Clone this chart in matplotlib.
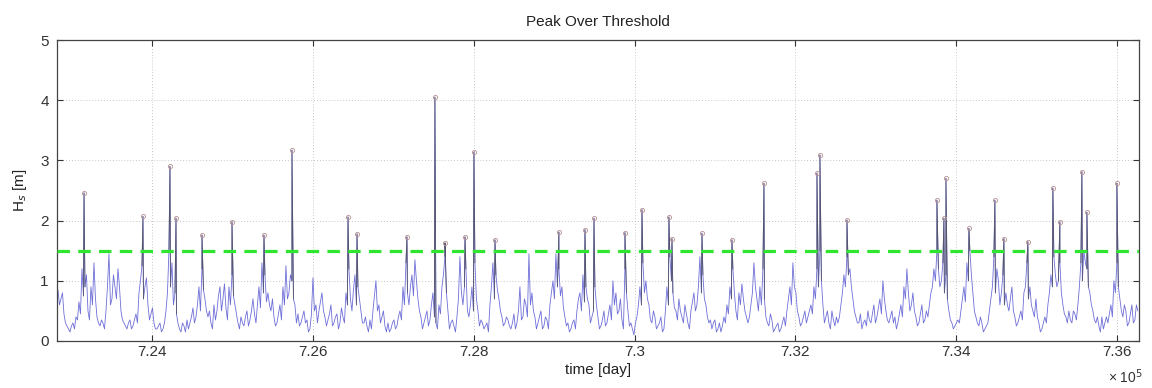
import numpy as np
import matplotlib
matplotlib.use("Agg")
import matplotlib.pyplot as plt

plt.rcParams['font.family'] = ['Liberation Sans', 'DejaVu Sans']

# Significant wave height, regular sampling (m)
hs_a = [0.85, 0.7, 0.45, 0.25, 0.15, 0.3, 0.4, 0.65, 1.2, 0.9,
        0.5, 0.9, 1.3, 0.4, 0.25, 0.3, 0.5, 1.45, 0.7, 0.9,
        1.2, 0.5, 0.3, 0.2, 0.35, 0.25, 0.45, 0.8, 1.25, 0.9,
        0.6, 0.45, 0.3, 0.2, 0.3, 0.2, 0.5, 1.5, 1.3, 0.8,
        0.3, 0.15, 0.25, 0.35, 0.3, 0.55, 0.4, 0.9, 1.2, 0.7,
        0.4, 0.3, 0.6, 0.5, 0.9, 0.7, 0.55, 0.9, 1.1, 0.6,
        0.3, 0.4, 0.25, 0.5, 0.35, 0.7, 0.3, 0.9, 1.3, 1.1,
        0.8, 0.5, 0.4, 0.3, 0.6, 0.9, 1.25, 0.8, 1.0, 0.6,
        0.45, 0.3, 0.5, 0.35, 0.2, 1.05, 0.6, 0.5, 0.8, 0.4]
hs_b = [0.35, 0.6, 0.3, 0.45, 0.3, 0.4, 0.8, 1.2, 0.5, 1.1,
        0.9, 0.5, 0.3, 0.25, 0.35, 0.5, 1.0, 0.6, 0.4, 0.25,
        0.3, 0.2, 0.35, 0.25, 0.5, 0.9, 1.3, 0.6, 1.1, 1.35,
        0.7, 0.4, 0.3, 0.5, 0.35, 0.8, 0.3, 0.6, 0.9, 1.4,
        0.5, 0.3, 0.25, 0.4, 1.4, 0.6, 1.2, 0.4, 0.9, 1.3,
        0.5, 0.35, 0.2, 0.3, 0.6, 1.3, 1.1, 0.7, 0.4, 0.3,
        0.35, 0.2, 0.45, 0.3, 0.9, 0.4, 0.6, 1.45, 0.8, 0.4,
        0.3, 0.5, 0.25, 0.35, 0.6, 1.0, 1.45, 1.2, 0.9, 0.4,
        0.3, 0.2, 0.35, 0.5, 0.8, 1.1, 0.9, 0.6, 0.4, 0.9]
hs_c = [0.4, 0.25, 0.5, 0.3, 0.6, 1.0, 0.8, 0.5, 0.35, 1.2,
        0.5, 0.3, 0.1, 0.4, 0.9, 1.3, 1.0, 0.6, 0.3, 0.4,
        0.25, 0.4, 0.2, 0.9, 1.4, 0.8, 0.5, 0.7, 0.4, 0.6,
        0.3, 0.5, 0.8, 0.6, 1.4, 1.1, 0.6, 0.3, 0.2, 0.35,
        0.2, 0.15, 0.4, 0.6, 0.9, 1.2, 0.5, 0.8, 0.95, 0.5,
        0.3, 0.6, 1.3, 0.7, 0.9, 1.2, 0.4, 0.25, 0.35, 0.2,
        0.3, 0.2, 0.4, 0.5, 0.9, 1.3, 0.8, 0.4, 0.3, 0.5,
        0.4, 0.6, 0.9, 1.2, 1.5, 0.6, 0.4, 0.3, 0.5, 0.25,
        0.3, 0.6, 1.1, 1.4, 1.2, 0.7, 0.4, 0.3, 0.2, 0.35]
hs_d = [0.5, 0.3, 0.6, 0.4, 0.7, 1.0, 0.5, 0.3, 0.5, 0.4,
        0.3, 0.6, 0.9, 1.2, 0.5, 0.8, 0.4, 0.3, 0.6, 0.35,
        0.4, 0.8, 1.2, 1.5, 0.9, 1.3, 1.1, 0.5, 0.3, 0.25,
        0.35, 0.5, 0.9, 1.3, 1.5, 0.8, 0.4, 0.25, 0.3, 0.2,
        0.3, 0.7, 1.4, 1.2, 0.6, 1.1, 0.8, 0.5, 0.9, 0.4,
        0.3, 0.5, 0.8, 1.3, 0.9, 0.5, 0.7, 0.3, 0.2, 0.4,
        0.6, 1.1, 1.4, 0.9, 1.3, 0.6, 0.4, 0.5, 0.3, 0.45,
        0.6, 1.3, 1.5, 1.2, 0.8, 0.5, 0.3, 0.25, 0.4, 0.3,
        0.3, 0.6, 1.0, 1.3, 0.7, 0.4, 0.5, 0.3, 0.6, 0.35,
        0.5]

# Values half-way (in time) between consecutive regular samples (m)
mid_a = [0.6, 0.8, 0.3, 0.2, 0.25, 0.2, 0.35, 0.45, 0.75, 1.1,
         0.35, 0.6, 0.7, 0.3, 0.35, 0.2, 0.9, 0.6, 1.1, 0.7,
         0.9, 0.35, 0.25, 0.3, 0.2, 0.35, 0.3, 1.0, 0.7, 1.05,
         0.35, 0.55, 0.2, 0.25, 0.15, 0.3, 0.8, 0.9, 0.6, 0.45,
         0.2, 0.3, 0.15, 0.2, 0.4, 0.3, 0.6, 0.5, 0.85, 0.5,
         0.5, 0.2, 0.35, 0.75, 0.5, 0.95, 0.35, 0.6, 0.75, 0.45,
         0.2, 0.3, 0.4, 0.25, 0.5, 0.45, 0.6, 0.55, 0.8, 0.65,
         0.6, 0.7, 0.25, 0.45, 0.35, 0.6, 0.7, 1.1, 0.7, 0.3,
         0.25, 0.4, 0.3, 0.15, 0.45, 0.5, 0.3, 0.65, 0.5, 0.25]
mid_b = [0.45, 0.25, 0.4, 0.2, 0.55, 0.3, 0.6, 0.7, 0.85, 0.6,
         0.7, 0.3, 0.4, 0.15, 0.2, 0.75, 0.5, 0.3, 0.5, 0.15,
         0.15, 0.3, 0.2, 0.4, 0.35, 0.6, 0.8, 0.9, 0.75, 1.0,
         0.5, 0.2, 0.4, 0.25, 0.6, 0.4, 0.2, 0.45, 1.1, 0.8,
         0.2, 0.35, 0.15, 0.7, 0.8, 0.9, 0.5, 0.6, 0.5, 0.7,
         0.25, 0.3, 0.25, 0.15, 0.9, 0.7, 0.85, 0.5, 0.25, 0.4,
         0.25, 0.3, 0.2, 0.5, 0.35, 0.7, 0.4, 0.6, 0.5, 0.2,
         0.4, 0.2, 0.4, 0.2, 0.8, 0.7, 0.9, 0.75, 0.55, 0.25,
         0.15, 0.3, 0.2, 0.7, 0.5, 0.65, 0.7, 0.3, 0.5, 0.6]
mid_c = [0.2, 0.35, 0.25, 0.45, 0.35, 0.6, 0.45, 0.7, 0.2, 0.8,
         0.25, 0.2, 0.3, 0.6, 0.6, 0.8, 0.7, 0.35, 0.5, 0.2,
         0.3, 0.15, 0.5, 0.6, 1.0, 0.55, 0.35, 0.5, 0.3, 0.45,
         0.2, 0.65, 0.5, 0.9, 0.8, 0.7, 0.4, 0.35, 0.3, 0.15,
         0.3, 0.25, 0.3, 0.45, 0.7, 0.8, 0.35, 0.6, 0.7, 0.4,
         0.4, 0.8, 0.9, 0.5, 0.6, 0.7, 0.3, 0.45, 0.15, 0.25,
         0.15, 0.3, 0.25, 0.7, 0.6, 0.9, 0.5, 0.25, 0.4, 0.3,
         0.5, 0.45, 0.7, 0.9, 1.0, 0.3, 0.5, 0.2, 0.35, 0.4,
         0.4, 0.8, 0.9, 1.1, 0.9, 0.5, 0.3, 0.45, 0.3, 0.25]
mid_d = [0.35, 0.45, 0.3, 0.55, 0.45, 0.7, 0.35, 0.4, 0.3, 0.2,
         0.45, 0.4, 0.7, 0.8, 0.6, 0.5, 0.25, 0.45, 0.3, 0.5,
         0.6, 0.9, 1.0, 1.2, 1.0, 0.8, 0.7, 0.35, 0.2, 0.3,
         0.3, 0.7, 0.65, 1.0, 1.1, 0.5, 0.3, 0.4, 0.15, 0.25,
         0.5, 0.9, 0.8, 1.0, 0.8, 0.6, 0.6, 0.7, 0.5, 0.25,
         0.4, 0.35, 0.9, 0.7, 0.6, 0.4, 0.4, 0.15, 0.3, 0.3,
         0.8, 0.9, 1.1, 1.0, 0.8, 0.45, 0.3, 0.35, 0.5, 0.35,
         0.9, 1.0, 1.3, 0.9, 0.6, 0.35, 0.4, 0.15, 0.2, 0.4,
         0.45, 0.4, 0.8, 0.9, 0.5, 0.6, 0.25, 0.45, 0.3, 0.6]
t_first, t_last = 722828, 736258   # datenum of first / last regular sample

# Storm peaks over the threshold (datenum, m)
peak_t = [723152, 723885, 724221, 724296, 724619, 724992, 725390, 725738,
          726435, 726547, 727168, 727516, 727641, 727890, 728001, 728263,
          729058, 729382, 729494, 729879, 730091, 730426, 730464, 730837,
          731210, 731608, 732267, 732304, 732640, 733759, 733846, 733871,
          734157, 734480, 734592, 734890, 735201, 735288, 735562, 735624,
          735997]
peak_hs = [2.46, 2.07, 2.90, 2.04, 1.76, 1.98, 1.76, 3.17,
           2.06, 1.78, 1.73, 4.05, 1.63, 1.73, 3.14, 1.68,
           1.81, 1.85, 2.04, 1.80, 2.18, 2.06, 1.70, 1.79,
           1.68, 2.62, 2.79, 3.09, 2.01, 2.34, 2.04, 2.70,
           1.87, 2.34, 1.70, 1.65, 2.54, 1.98, 2.81, 2.14,
           2.62]

threshold = 1.5
x_limits = (722816, 736272)
xtick_vals = [724000, 726000, 728000, 730000, 732000, 734000, 736000]
xtick_labels = ["7.24", "7.26", "7.28", "7.3", "7.32", "7.34", "7.36"]
ytick_vals = [0, 1, 2, 3, 4, 5]

# Merge the regular record, the in-between values and the storm peaks
hs_reg = np.array(hs_a + hs_b + hs_c + hs_d)
t_reg = np.linspace(t_first, t_last, len(hs_reg))
hs_mid = np.array(mid_a + mid_b + mid_c + mid_d)
t_mid = 0.5 * (t_reg[:-1] + t_reg[1:])
t_all = np.concatenate([t_reg, t_mid, peak_t])
hs_all = np.concatenate([hs_reg, hs_mid, peak_hs])
flag = np.concatenate([np.zeros(len(t_reg) + len(t_mid), bool),
                       np.ones(len(peak_t), bool)])
order = np.argsort(t_all, kind="stable")
t_all, hs_all, is_peak = t_all[order], hs_all[order], flag[order]

fig = plt.figure(figsize=(11.52, 3.88), dpi=100)
ax = fig.add_axes([57 / 1152, 47 / 388, 1082 / 1152, 301 / 388])

ax.plot(t_all, hs_all, color="#6e6ed8", lw=0.6, zorder=2)
for i in np.flatnonzero(is_peak):
    seg = slice(max(i - 1, 0), min(i + 2, len(t_all)))
    ax.plot(t_all[seg], hs_all[seg], color="#55556a", lw=0.6, zorder=3)
ax.plot(peak_t, peak_hs, linestyle="none", marker="o", ms=3,
        mfc="none", mec="#b89090", mew=0.6, zorder=4)

ax.axhline(threshold, color="#2ee62e", lw=2.3, linestyle=(0, (3.9, 2.6)), zorder=5)

ax.set_xlim(*x_limits)
ax.set_ylim(0, 5)
ax.set_xticks(xtick_vals)
ax.set_xticklabels(xtick_labels)
ax.set_yticks(ytick_vals)
ax.grid(True, color="#b4b4b4", lw=0.6, linestyle=(0, (1, 2.5)))
ax.tick_params(direction="in", length=4, width=0.8, top=True, right=True,
               labelsize=11, colors="#333333", pad=3)
ax.tick_params(axis="y", pad=6)
for s in ax.spines.values():
    s.set_color("#444444")
    s.set_linewidth(0.9)

ax.set_title("Peak Over Threshold", fontsize=11, color="#222222", pad=10)
ax.set_xlabel("time [day]", fontsize=11, color="#222222", labelpad=3)
ax.set_ylabel("H$_s$ [m]", fontsize=11, color="#222222", labelpad=8)
fig.text(1108 / 1152, 2 / 388, "\u00d7 10$^5$", fontsize=10, color="#333333",
         ha="left", va="bottom")

fig.savefig("out.png", dpi=100)
